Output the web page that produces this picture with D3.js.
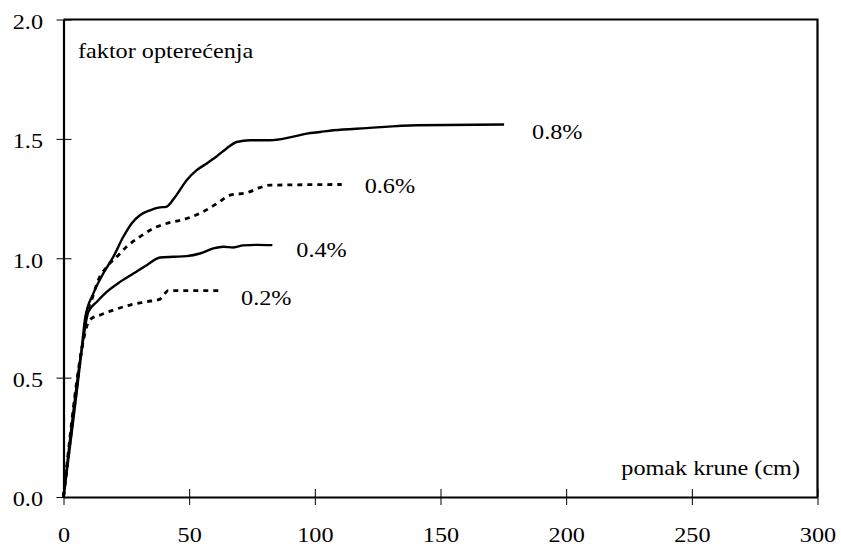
<!DOCTYPE html>
<html>
<head>
<meta charset="utf-8">
<script src="https://cdn.jsdelivr.net/npm/d3@7"></script>
<style>
  html, body { margin: 0; padding: 0; background: #fff; }
  svg { display: block; }
</style>
</head>
<body>
<svg id="chart" width="841" height="550"></svg>
<script>
// Load factor vs. crown displacement for four reinforcement ratios
const seriesNames = ["0.8%", "0.6%", "0.4%", "0.2%"];

const disp08 = [0, 7.2, 8.6, 11.9, 15.8, 19.8, 23.8, 27.1, 30.4, 34.4, 38.4, 40.8, 44.4, 49.0, 53.0, 57.0, 61.0, 64.9, 68.9, 74.2, 82.2, 90.1, 96.8, 102.1, 107.4, 120.6, 140.5, 175.3];
const load08 = [0, 0.615, 0.749, 0.853, 0.936, 1.006, 1.090, 1.146, 1.180, 1.201, 1.213, 1.215, 1.257, 1.327, 1.369, 1.397, 1.427, 1.460, 1.487, 1.494, 1.494, 1.506, 1.522, 1.529, 1.536, 1.545, 1.557, 1.560];

const disp06 = [0, 7.2, 9.2, 11.2, 13.8, 17.2, 21.2, 25.1, 30.4, 35.7, 41.1, 47.7, 54.3, 61.0, 66.3, 72.9, 78.2, 82.2, 110.7];
const load06 = [0, 0.615, 0.769, 0.825, 0.908, 0.964, 1.006, 1.048, 1.090, 1.125, 1.146, 1.162, 1.188, 1.229, 1.264, 1.274, 1.296, 1.306, 1.309];

const disp04 = [0, 7.2, 9.9, 13.2, 17.2, 22.5, 27.8, 33.1, 38.4, 43.7, 49.0, 54.3, 59.6, 63.6, 67.6, 71.5, 76.9, 83.1];
const load04 = [0, 0.615, 0.776, 0.817, 0.859, 0.901, 0.936, 0.971, 1.003, 1.006, 1.009, 1.020, 1.041, 1.048, 1.045, 1.054, 1.056, 1.055];

const disp02 = [0, 7.2, 9.2, 11.2, 14.5, 19.8, 26.5, 33.1, 38.4, 41.7, 62.3];
const load02 = [0, 0.615, 0.713, 0.748, 0.762, 0.783, 0.804, 0.818, 0.829, 0.864, 0.864];

const xTicks = [0, 50, 100, 150, 200, 250, 300];
const yTicks = [0.0, 0.5, 1.0, 1.5, 2.0];

const yTitle = "faktor opterećenja";
const xTitle = "pomak krune (cm)";

// ---- layout ----
const plotLeft = 63.5, plotRight = 817.5, plotTop = 19.5, plotBottom = 497;
const stretch = 1.1;           // horizontal stretch of the serif lettering
const fontSize = 22;
const serif = "'Liberation Serif', 'Times New Roman', Times, serif";

const svg = d3.select("#chart");

const x = d3.scaleLinear().domain([0, 300]).range([plotLeft, plotRight]);
const y = d3.scaleLinear().domain([0, 2]).range([plotBottom, plotTop]);

// frame (top and right edges)
svg.append("path")
  .attr("d", `M${plotLeft},${plotTop}H${plotRight}V${plotBottom}`)
  .attr("fill", "none")
  .attr("stroke", "#000")
  .attr("stroke-width", 2.2);

// axes with ticks crossing the axis line
const xAxis = d3.axisBottom(x).tickValues(xTicks).tickFormat(d3.format("d"))
  .tickSizeInner(8).tickSizeOuter(0);
const gx = svg.append("g").attr("transform", `translate(0,${plotBottom})`).call(xAxis)
  .attr("font-family", serif).attr("font-size", fontSize);
gx.select(".domain").attr("stroke", "#000").attr("stroke-width", 2.2);
gx.selectAll(".tick line").attr("y1", -8).attr("stroke", "#000").attr("stroke-width", 1);
gx.selectAll(".tick text")
  .attr("y", 45).attr("dy", 0)
  .attr("transform", `scale(${stretch},1)`);

const yAxis = d3.axisLeft(y).tickValues(yTicks).tickFormat(d3.format(".1f"))
  .tickSizeInner(7).tickSizeOuter(0);
const gy = svg.append("g").attr("transform", `translate(${plotLeft},0)`).call(yAxis)
  .attr("font-family", serif).attr("font-size", fontSize);
gy.select(".domain").attr("stroke", "#000").attr("stroke-width", 2.2);
gy.selectAll(".tick line").attr("x2", -7).attr("x1", 8).attr("stroke", "#000").attr("stroke-width", 1);
gy.selectAll(".tick text")
  .attr("x", -20.5 / stretch).attr("dy", "0.4em")
  .attr("transform", `scale(${stretch},1)`);
svg.selectAll(".tick text").attr("fill", "#000");

// in-plot text
function label(txt, px, py, anchor) {
  svg.append("text")
    .attr("transform", `translate(${px},${py}) scale(${stretch},1)`)
    .attr("text-anchor", anchor || "start")
    .attr("font-family", serif)
    .attr("font-size", fontSize)
    .attr("fill", "#000")
    .text(txt);
}
label(yTitle, 78, 57.5);
label(xTitle, 800, 475, "end");

// curves
const series = [
  { name: seriesNames[0], xs: disp08, ys: load08, dash: null,  dx: 28, dy: 14 },
  { name: seriesNames[1], xs: disp06, ys: load06, dash: "5,5", dx: 23, dy: 8.5 },
  { name: seriesNames[2], xs: disp04, ys: load04, dash: null,  dx: 24, dy: 12 },
  { name: seriesNames[3], xs: disp02, ys: load02, dash: "5,5", dx: 21, dy: 14 }
];

const line = d3.line()
  .x(d => x(d[0]))
  .y(d => y(d[1]))
  .curve(d3.curveMonotoneX);

series.forEach(s => {
  const pts = s.xs.map((v, i) => [v, s.ys[i]]);
  svg.append("path")
    .datum(pts)
    .attr("d", line)
    .attr("fill", "none")
    .attr("stroke", "#000")
    .attr("stroke-width", s.dash ? 2.8 : 2.4)
    .attr("stroke-dasharray", s.dash);
  const last = pts[pts.length - 1];
  label(s.name, x(last[0]) + s.dx, y(last[1]) + s.dy);
});
</script>
</body>
</html>
